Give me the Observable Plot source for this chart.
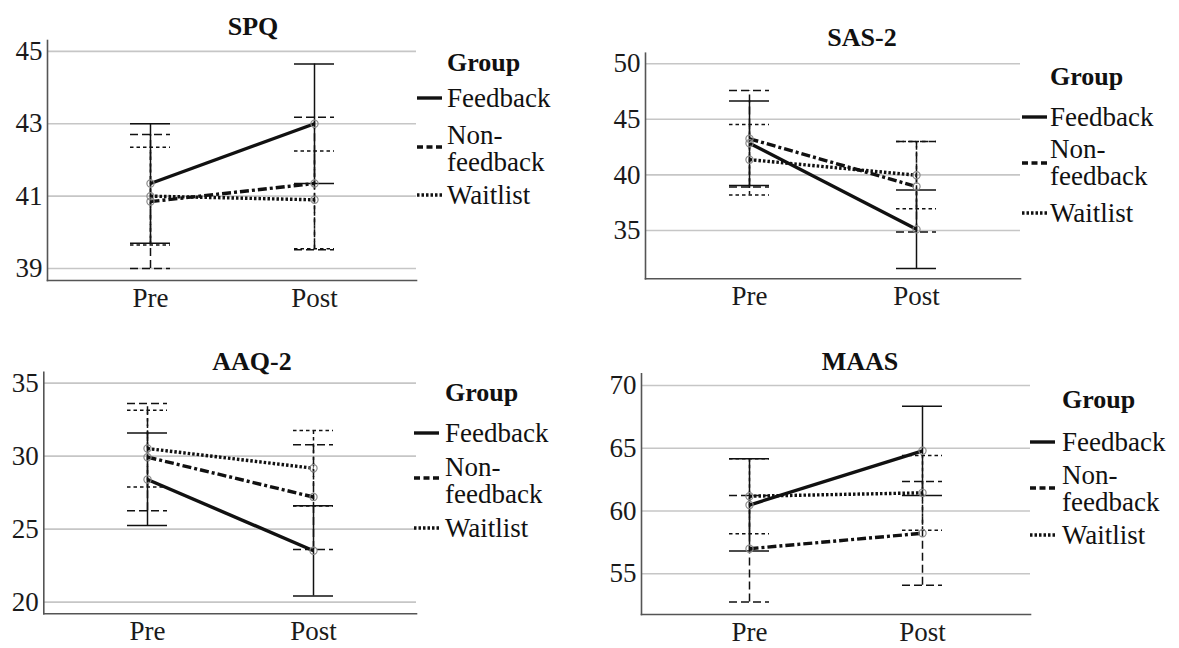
<!DOCTYPE html>
<html><head><meta charset="utf-8">
<script src="https://cdn.jsdelivr.net/npm/d3@7"></script>
<script src="https://cdn.jsdelivr.net/npm/@observablehq/plot@0.6"></script>
<style>
body{margin:0;background:#fff;}
#root{position:relative;width:1179px;height:648px;overflow:hidden;font-family:"Liberation Serif","Times New Roman",serif;color:#111;background:#fff}
.panel{position:absolute}
.title{position:absolute;font-weight:bold;font-size:26px;transform:translate(-50%,-50%);white-space:nowrap;line-height:1}
.lt{position:absolute;font-size:27px;transform:translateY(-50%);white-space:pre;line-height:27px}
.lg{position:absolute;font-size:26px;font-weight:bold;transform:translateY(-50%);white-space:nowrap;line-height:1}
.mk{position:absolute;transform:translateY(-50%)}
</style></head><body><div id="root"></div>
<script>
// ---- data ----
const times = ["Pre", "Post"];
const groups = ["Feedback", "Non-feedback", "Waitlist"];
const legendLabels = ["Feedback", "Non-\nfeedback", "Waitlist"];
const titles = ["SPQ", "SAS-2", "AAQ-2", "MAAS"];

// rows: Feedback, Non-feedback, Waitlist ; columns: Pre, Post
const spqMean = [[41.35, 43.0], [40.85, 41.35], [41.0, 40.9]];
const spqLow  = [[39.7, 41.35], [39.0, 39.52], [39.65, 39.55]];
const spqHigh = [[43.0, 44.65], [42.7, 43.18], [42.35, 42.25]];
const spqTicks = [39, 41, 43, 45];

const sasMean = [[42.85, 35.1], [43.25, 38.95], [41.37, 39.97]];
const sasLow  = [[39.05, 31.58], [38.9, 34.85], [38.2, 36.95]];
const sasHigh = [[46.65, 38.65], [47.6, 43.0], [44.54, 43.0]];
const sasTicks = [35, 40, 45, 50];

const aaqMean = [[28.4, 23.52], [29.93, 27.2], [30.52, 29.17]];
const aaqLow  = [[25.25, 20.42], [26.26, 23.61], [27.88, 26.58]];
const aaqHigh = [[31.58, 26.6], [33.6, 30.78], [33.14, 31.76]];
const aaqTicks = [20, 25, 30, 35];

const maasMean = [[60.48, 64.8], [57.0, 58.23], [61.18, 61.45]];
const maasLow  = [[56.81, 61.24], [52.75, 54.08], [58.19, 58.46]];
const maasHigh = [[64.16, 68.35], [61.24, 62.36], [64.16, 64.43]];
const maasTicks = [55, 60, 65, 70];

// ---- styles / layout ----
const lineDash = [null, "9,3,3,3", "2.5,2"];
const barDash = [null, "8,4", "3.5,3"];
const legendDash = [null, "6,3.5", "2.5,2"];

const panels = [
  {title: titles[0], mean: spqMean, low: spqLow, high: spqHigh, ticks: spqTicks, domain: [38.67, 45.3],
   left: 0, top: 0, width: 420, height: 320, mL: 47, mR: 4, mT: 40, mB: 40, tx: 253, ty: 27,
   lg: {mx: 417, tx: 447, g: 63, f: 98, n: 148.5, nm: 147, w: 195}},
  {title: titles[1], mean: sasMean, low: sasLow, high: sasHigh, ticks: sasTicks, domain: [30.65, 50.95],
   left: 600, top: 0, width: 424, height: 320, mL: 45, mR: 4, mT: 52.7, mB: 41.7, tx: 862, ty: 38,
   lg: {mx: 1022, tx: 1050, g: 77, f: 117, n: 163, nm: 163, w: 213}},
  {title: titles[2], mean: aaqMean, low: aaqLow, high: aaqHigh, ticks: aaqTicks, domain: [19.2, 35.75],
   left: 0, top: 330, width: 420, height: 318, mL: 43.3, mR: 4, mT: 41.7, mB: 34.7, tx: 252, ty: 362,
   lg: {mx: 414, tx: 445, g: 393, f: 433, n: 481, nm: 478, w: 528}},
  {title: titles[3], mean: maasMean, low: maasLow, high: maasHigh, ticks: maasTicks, domain: [51.76, 70.93],
   left: 600, top: 330, width: 434, height: 318, mL: 41, mR: 4, mT: 43.3, mB: 34, tx: 860, ty: 362,
   lg: {mx: 1030, tx: 1062, g: 400, f: 442, n: 488.5, nm: 488, w: 535}}
];

const root = document.getElementById("root");

function addDiv(cls, x, y, text) {
  const d = document.createElement("div");
  d.className = cls;
  d.style.left = x + "px";
  d.style.top = y + "px";
  d.textContent = text;
  root.appendChild(d);
  return d;
}
function addMarker(x, y, dash) {
  const ns = "http://www.w3.org/2000/svg";
  const s = document.createElementNS(ns, "svg");
  s.setAttribute("width", 26); s.setAttribute("height", 6);
  s.setAttribute("class", "mk");
  s.style.left = x + "px"; s.style.top = y + "px";
  const l = document.createElementNS(ns, "line");
  l.setAttribute("x1", 0); l.setAttribute("x2", 25); l.setAttribute("y1", 3); l.setAttribute("y2", 3);
  l.setAttribute("stroke", "#111"); l.setAttribute("stroke-width", 3.4);
  if (dash) l.setAttribute("stroke-dasharray", dash);
  s.appendChild(l);
  root.appendChild(s);
}

for (const p of panels) {
  const rows = [];
  groups.forEach((g, gi) => times.forEach((t, ti) => rows.push({
    group: g, gi, time: t, mean: p.mean[gi][ti], lo: p.low[gi][ti], hi: p.high[gi][ti]
  })));
  const marks = [
    Plot.gridY(p.ticks, {stroke: "#c6c6c6", strokeOpacity: 1, strokeWidth: 1.6}),
    Plot.axisY(p.ticks, {tickSize: 0, tickPadding: 5, fontSize: 27, fill: "#1a1a1a"}),
    Plot.axisX({tickSize: 0, tickPadding: 7, fontSize: 27, fill: "#1a1a1a"}),
    Plot.frame({anchor: "left", stroke: "#555", strokeWidth: 1.6}),
    Plot.frame({anchor: "bottom", stroke: "#555", strokeWidth: 1.6})
  ];
  groups.forEach((g, gi) => {
    const d = rows.filter(r => r.gi === gi);
    const bar = {stroke: "#111", strokeWidth: 1.5, strokeDasharray: barDash[gi], strokeLinecap: "butt"};
    marks.push(Plot.ruleX(d, {x: "time", y1: "lo", y2: "hi", ...bar}));
    marks.push(Plot.ruleY(d, {x1: "time", x2: "time", y: "lo", insetLeft: -20, insetRight: -20, ...bar}));
    marks.push(Plot.ruleY(d, {x1: "time", x2: "time", y: "hi", insetLeft: -20, insetRight: -20, ...bar}));
  });
  groups.forEach((g, gi) => {
    const d = rows.filter(r => r.gi === gi);
    marks.push(Plot.line(d, {x: "time", y: "mean", stroke: "#111", strokeWidth: 3.4,
      strokeDasharray: lineDash[gi], strokeLinecap: "butt", strokeLinejoin: "miter"}));
  });
  marks.push(Plot.dot(rows, {x: "time", y: "mean", r: 3.6, stroke: "#8a8a8a", strokeWidth: 1.2, fill: "none"}));

  const chart = Plot.plot({
    width: p.width, height: p.height,
    marginLeft: p.mL, marginRight: p.mR, marginTop: p.mT, marginBottom: p.mB,
    x: {type: "point", domain: times, padding: 0.62, align: 0.5, label: null},
    y: {domain: p.domain, label: null},
    style: {fontFamily: "'Liberation Serif', 'Times New Roman', serif", color: "#111", background: "transparent"},
    marks
  });
  chart.classList.add("panel");
  chart.style.left = p.left + "px";
  chart.style.top = p.top + "px";
  root.appendChild(chart);

  addDiv("title", p.tx, p.ty, p.title);
  const L = p.lg;
  addDiv("lg", L.tx, L.g, "Group");
  addMarker(L.mx, L.f, legendDash[0]);
  addDiv("lt", L.tx, L.f, legendLabels[0]);
  addMarker(L.mx, L.nm, legendDash[1]);
  addDiv("lt", L.tx, L.n, legendLabels[1]);
  addMarker(L.mx, L.w, legendDash[2]);
  addDiv("lt", L.tx, L.w, legendLabels[2]);
}
</script></body></html>
